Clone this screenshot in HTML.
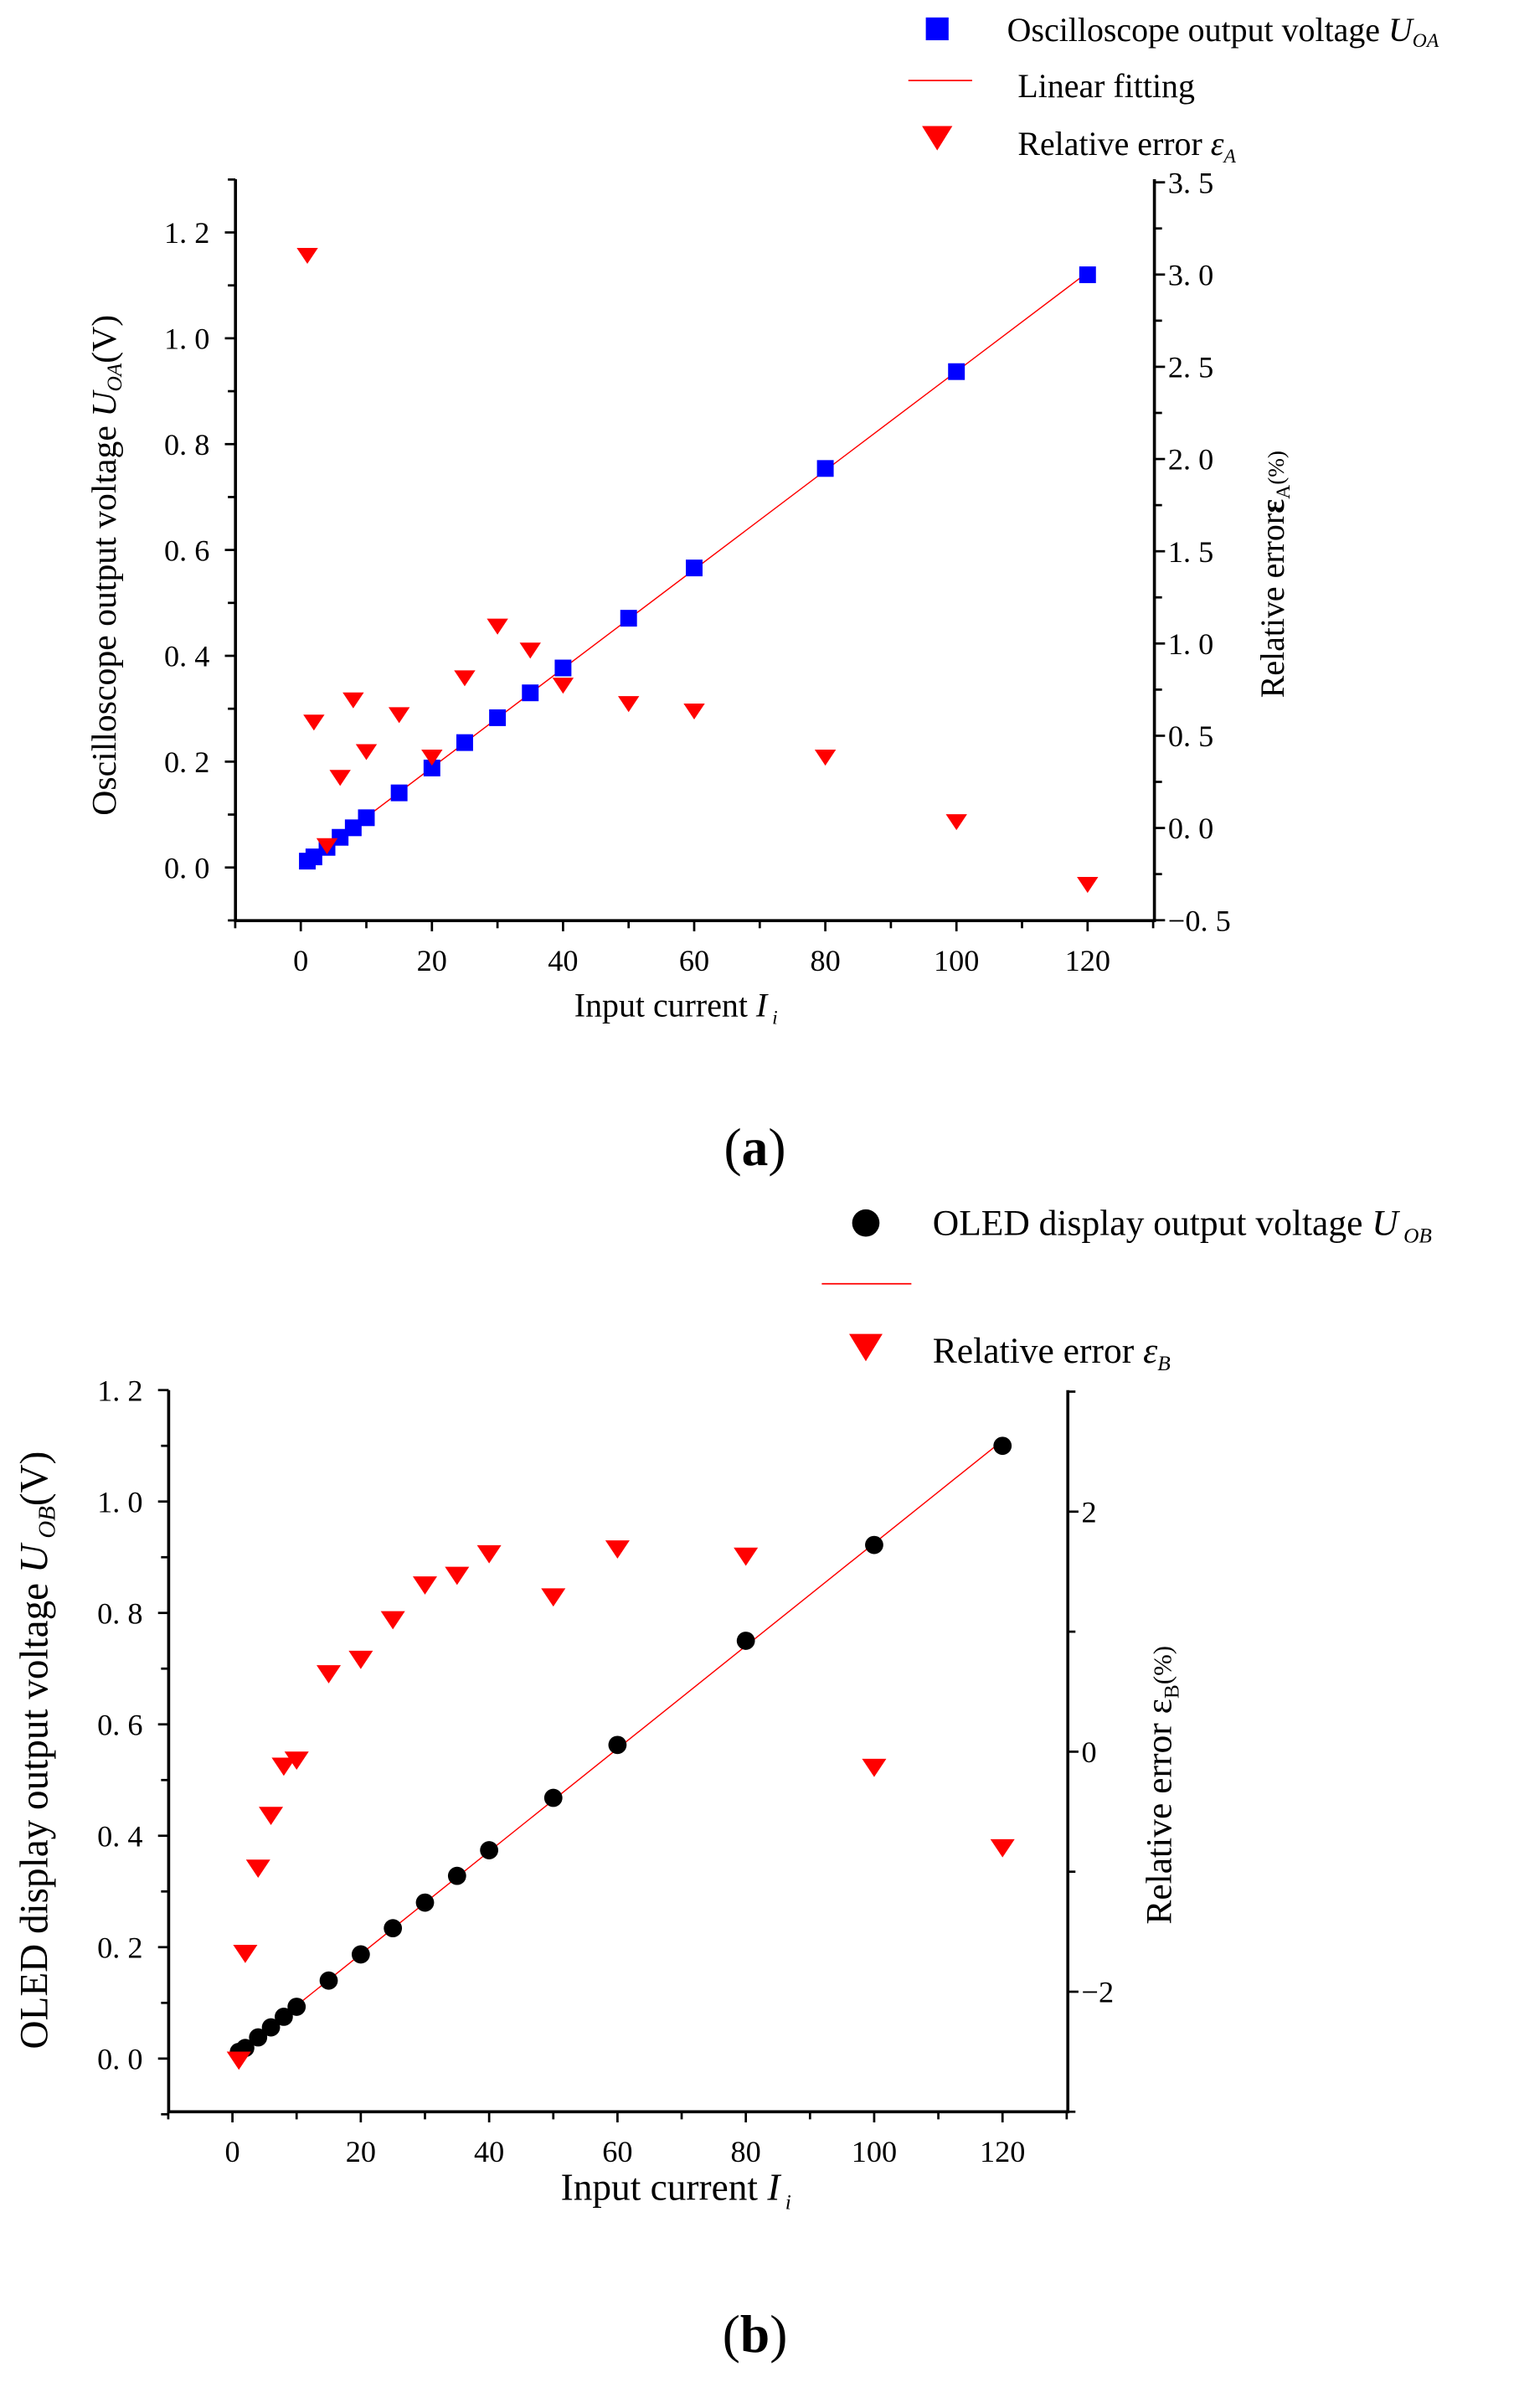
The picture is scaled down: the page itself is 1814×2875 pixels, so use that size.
<!DOCTYPE html>
<html><head><meta charset="utf-8">
<style>
html,body{margin:0;padding:0;background:#fff;}
svg{display:block;}
text{font-family:"Liberation Serif",serif;fill:#000;}
</style></head>
<body>
<svg id="fig" width="1814" height="2875" viewBox="0 0 1000 1585" xmlns="http://www.w3.org/2000/svg">
  <g id="chartA"></g>
  <g id="chartB"></g>
  <g>
    <rect x="609.5" y="11.5" width="15" height="15" fill="#0000ff"/>
    <text x="663" y="27" font-size="22">Oscilloscope output voltage <tspan font-style="italic">U</tspan><tspan font-style="italic" font-size="13" dy="4">OA</tspan></text>
    <line x1="598" y1="53" x2="640" y2="53" stroke="#ff0000" stroke-width="1"/>
    <text x="670" y="64" font-size="22">Linear fitting</text>
    <path d="M607,83 L627,83 L617,99 Z" fill="#ff0000"/>
    <text x="670" y="102" font-size="22">Relative error <tspan font-style="italic">ε</tspan><tspan font-style="italic" font-size="13" dy="5">A</tspan></text>
  </g>
  <g>
    <circle cx="570" cy="805" r="9" fill="#000"/>
    <text x="614" y="813" font-size="24">OLED display output voltage <tspan font-style="italic">U</tspan><tspan font-style="italic" font-size="14" dy="5"> OB</tspan></text>
    <line x1="541" y1="845" x2="600" y2="845" stroke="#ff0000" stroke-width="1"/>
    <path d="M559,878 L581,878 L570,896 Z" fill="#ff0000"/>
    <text x="614" y="897" font-size="24">Relative error <tspan font-style="italic">ε</tspan><tspan font-style="italic" font-size="14" dy="5">B</tspan></text>
  </g>
  <text x="497" y="767" font-size="35" text-anchor="middle">(<tspan font-weight="bold">a</tspan>)</text>
  <text x="497" y="1548" font-size="35" text-anchor="middle">(<tspan font-weight="bold">b</tspan>)</text>
</svg>
<script>
const currents = [1,2,4,6,8,10,15,20,25,30,35,40,50,60,80,100,120];
const voltageA = [0.012,0.02,0.038,0.057,0.075,0.094,0.141,0.188,0.236,0.283,0.330,0.377,0.471,0.566,0.754,0.937,1.120];
const errorA = [3.11,0.58,-0.09,0.28,0.70,0.42,0.62,0.39,0.82,1.10,0.97,0.78,0.68,0.64,0.39,0.04,-0.30];
const voltageB = [0.012,0.019,0.038,0.056,0.075,0.093,0.140,0.187,0.234,0.280,0.328,0.374,0.468,0.563,0.750,0.922,1.100];
const errorB = [-2.56,-1.67,-0.96,-0.52,-0.11,-0.06,0.66,0.78,1.11,1.40,1.48,1.66,1.30,1.70,1.64,-0.12,-0.79];
const xTicks = [0,20,40,60,80,100,120];
const leftTicksA = [0.0,0.2,0.4,0.6,0.8,1.0,1.2];
const rightTicksA = [-0.5,0.0,0.5,1.0,1.5,2.0,2.5,3.0,3.5];
const leftTicksB = [0.0,0.2,0.4,0.6,0.8,1.0,1.2];
const rightTicksB = [-2,0,2];

const NS = "http://www.w3.org/2000/svg";
function mk(parent, tag, attrs){
  const e = document.createElementNS(NS, tag);
  for (const k in attrs) e.setAttribute(k, attrs[k]);
  parent.appendChild(e);
  return e;
}
function lin(d0,d1,r0,r1){ return v => r0 + (v-d0)*(r1-r0)/(d1-d0); }
function isMajor(k,arr){ return arr.some(v=>Math.abs(v-k)<1e-6); }

function drawChart(g, cfg){
  const {L,R,T,B,x,yl,yr} = cfg;
  const n = currents.length;
  let sx=0,sy=0,sxx=0,sxy=0;
  for(let i=0;i<n;i++){sx+=currents[i];sy+=cfg.volt[i];sxx+=currents[i]*currents[i];sxy+=currents[i]*cfg.volt[i];}
  const m=(n*sxy-sx*sy)/(n*sxx-sx*sx), b=(sy-m*sx)/n;
  const fit = mk(g,'line',{x1:x(currents[0]),y1:yl(m*currents[0]+b),x2:x(currents[n-1]),y2:yl(m*currents[n-1]+b),stroke:'#ff0000','stroke-width':0.8});
  
  
  for(let i=0;i<n;i++){
    const cx=x(currents[i]), cy=yl(cfg.volt[i]);
    let e;
    if(cfg.marker==='square'){
      e = mk(g,'rect',{x:cx-5.5,y:cy-5.5,width:11,height:11,fill:'#0000ff'});
    } else {
      e = mk(g,'circle',{cx:cx,cy:cy,r:6,fill:'#000'});
    }
    
    
  }
  for(let i=0;i<n;i++){
    const cx=x(currents[i]), cy=yr(cfg.err[i]);
    const s=cfg.tri;
    const e = mk(g,'path',{d:`M${cx-s},${cy-s*0.6} L${cx+s},${cy-s*0.6} L${cx},${cy+s*0.9} Z`,fill:'#ff0000'});
    
    
  }
  const ax = mk(g,'path',{d:`M${L},${T} L${L},${B} L${R},${B} L${R},${T}`,fill:'none',stroke:'#000','stroke-width':2});
  
  
  for(let v=-10; v<=130; v+=10){
    const px=x(v);
    const major = xTicks.indexOf(v)>=0;
    mk(g,'line',{x1:px,y1:B,x2:px,y2:B+(major?7:5),stroke:'#000','stroke-width':1.5});
  }
  xTicks.forEach(v=>{
    const t = mk(g,'text',{x:x(v),y:B+33,'font-size':cfg.fs,'text-anchor':'middle'});
    t.textContent = v;
    
    
  });
  for(let k=cfg.lminStart; k<=cfg.lminEnd+1e-9; k+=0.1){
    const py=yl(k);
    const major = isMajor(k,cfg.leftTicks);
    mk(g,'line',{x1:L,y1:py,x2:L-(major?7:5),y2:py,stroke:'#000','stroke-width':1.5});
  }
  cfg.leftTicks.forEach(v=>{
    const t = mk(g,'text',{x:L-17,y:yl(v)+7,'font-size':cfg.fs,'text-anchor':'end'});
    t.textContent = cfg.fmtL(v);
    
    
  });
  for(let k=cfg.rminStart; k<=cfg.rminEnd+1e-9; k+=cfg.rstep){
    const py=yr(k);
    const major = isMajor(k,cfg.rightTicks);
    mk(g,'line',{x1:R,y1:py,x2:R+(major?7:5),y2:py,stroke:'#000','stroke-width':1.5});
  }
  cfg.rightTicks.forEach(v=>{
    const t = mk(g,'text',{x:R+9,y:yr(v)+7,'font-size':cfg.fs,'text-anchor':'start'});
    t.textContent = cfg.fmtR(v);
    
    
  });
}

const gA = document.getElementById('chartA');
drawChart(gA,{
  L:155,R:760,T:118,B:606,
  x:lin(0,120,198,716), yl:lin(0,1.2,571,153), yr:lin(0,3.5,545,120),
  volt:voltageA, err:errorA, marker:'square', tri:7,
  leftTicks:leftTicksA, rightTicks:rightTicksA,
  lminStart:-0.1,lminEnd:1.3,rminStart:-0.5,rminEnd:3.5,rstep:0.25,
  fmtL:v=>v.toFixed(1).replace('.','. ').replace('-','−'),
  fmtR:v=>v.toFixed(1).replace('.','. ').replace('-','−'),
  fs:20
});
const gB = document.getElementById('chartB');
drawChart(gB,{
  L:111,R:703,T:915,B:1390,
  x:lin(0,120,153,660), yl:lin(0,1.2,1355,915), yr:lin(0,2,1153,995),
  volt:voltageB, err:errorB, marker:'circle', tri:8,
  leftTicks:leftTicksB, rightTicks:rightTicksB,
  lminStart:-0.1,lminEnd:1.2,rminStart:-3,rminEnd:3,rstep:1,
  fmtL:v=>v.toFixed(1).replace('.','. '),
  fmtR:v=>String(v).replace('-','−'),
  fs:20
});

function title(parent, name, x, y, rot, html, fs){
  const t = document.createElementNS(NS,'text');
  t.setAttribute('x',x); t.setAttribute('y',y);
  t.setAttribute('font-size',fs);
  t.setAttribute('text-anchor','middle');
  if(rot) t.setAttribute('transform',`rotate(-90 ${x} ${y})`);
  t.innerHTML = html;
  
  
  parent.appendChild(t);
}
title(gA,'y-axis-title-left',76,372,true,'Oscilloscope output voltage <tspan font-style="italic">U</tspan><tspan font-style="italic" font-size="14" dy="4">OA</tspan><tspan dy="-4">(V)</tspan>',23);
title(gA,'y-axis-title-right',845,378,true,'Relative error<tspan font-weight="bold">ε</tspan><tspan font-size="13" dy="4">A</tspan><tspan font-size="15" dy="-4">(%)</tspan>',22);
title(gA,'x-axis-title',445,669,false,'Input current <tspan font-style="italic">I</tspan><tspan font-style="italic" font-size="13" dy="5"> i</tspan>',22);
title(gB,'y-axis-title-left',31,1152,true,'OLED display output voltage <tspan font-style="italic">U</tspan><tspan font-style="italic" font-size="16" dy="5"> OB</tspan><tspan dy="-5">(V)</tspan>',26);
title(gB,'y-axis-title-right',771,1175,true,'Relative error <tspan>ε</tspan><tspan font-size="14" dy="5">B</tspan><tspan font-size="17" dy="-5">(%)</tspan>',24);
title(gB,'x-axis-title',445,1448,false,'Input current <tspan font-style="italic">I</tspan><tspan font-style="italic" font-size="14" dy="6"> i</tspan>',25);
</script>
</body></html>
